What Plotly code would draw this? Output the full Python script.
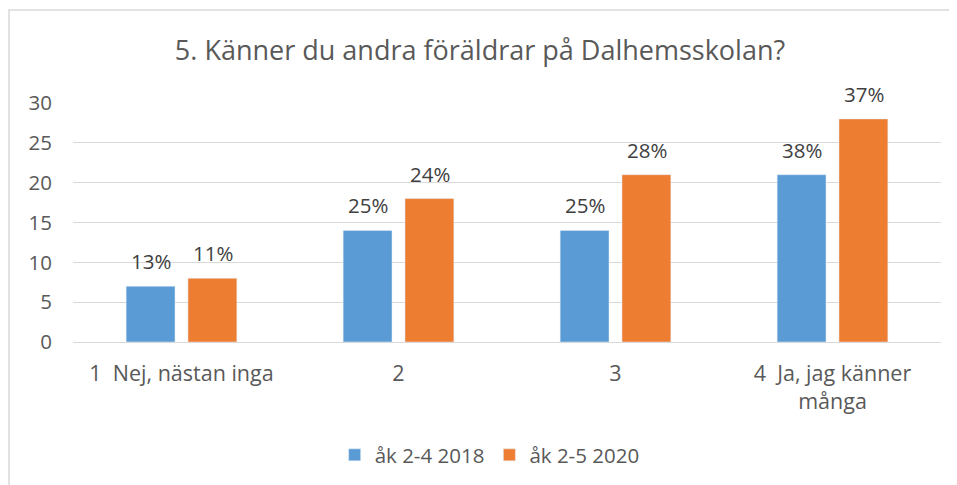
import plotly.graph_objects as go

categories = ["1  Nej, nästan inga", "2", "3", "4  Ja, jag känner<br>många"]
series_names = ["åk 2-4 2018", "åk 2-5 2020"]
values_2018 = [7, 14, 14, 21]
values_2020 = [8, 18, 21, 28]
labels_2018 = ["13%", "25%", "25%", "38%"]
labels_2020 = ["11%", "24%", "28%", "37%"]
colors = ["#5B9BD5", "#ED7D31"]

font_family = "Open Sans, Liberation Sans, sans-serif"
text_color = "#595959"

fig = go.Figure()
for name, vals, col in [
    (series_names[0], values_2018, colors[0]),
    (series_names[1], values_2020, colors[1]),
]:
    fig.add_trace(go.Bar(x=categories, y=vals, name=name, marker_color=col))

# data labels anchored at each category position (category index) and bar value
for vals, labs, shift in [(values_2018, labels_2018, -31), (values_2020, labels_2020, 31)]:
    for i, (v, t) in enumerate(zip(vals, labs)):
        fig.add_annotation(x=i, y=v, text=t, xref="x", yref="y", showarrow=False,
                           xshift=shift, yshift=9, yanchor="bottom",
                           font=dict(size=20.5, color="#404040", family=font_family))

fig.update_layout(
    width=957, height=485,
    margin=dict(l=65, r=24, t=95, b=151),
    paper_bgcolor="white", plot_bgcolor="white",
    barmode="group", bargap=0.43, bargroupgap=0.21,
    title=dict(text="5. Känner du andra föräldrar på Dalhemsskolan?",
               x=472 / 957, xanchor="center", y=0.913, yanchor="middle",
               font=dict(size=27, color=text_color, family=font_family)),
    font=dict(family=font_family, color=text_color, size=18),
    legend=dict(orientation="h", x=0.480, xanchor="center", y=-0.473, yanchor="middle",
                font=dict(size=20.5, color=text_color), traceorder="normal"),
    showlegend=True,
)
fig.update_xaxes(type="category")
fig.update_yaxes(range=[0, 30], dtick=5, showgrid=True, gridcolor="#D9D9D9", gridwidth=1,
                 zeroline=False, showline=False, ticks="",
                 tickfont=dict(size=20.5, color=text_color), ticklabelstandoff=20)
fig.update_xaxes(showline=True, linecolor="#D9D9D9", linewidth=1, ticks="",
                 tickfont=dict(size=21.5, color=text_color), ticklabelstandoff=12)

fig.add_shape(type="rect", xref="paper", yref="paper",
              x0=-64 / 868, x1=1.2, y0=-1.0, y1=1 + 93 / 239,
              line=dict(color="#D9D9D9", width=1.5), fillcolor="rgba(0,0,0,0)", layer="below")

fig.write_html("out.html")
